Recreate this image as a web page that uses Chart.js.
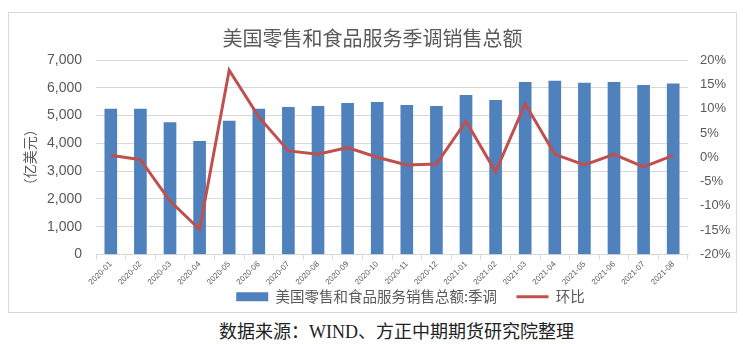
<!DOCTYPE html>
<html>
<head>
<meta charset="utf-8">
<script src="https://cdn.jsdelivr.net/npm/chart.js@4/dist/chart.umd.min.js"></script>
<style>
    html, body { margin: 0; padding: 0; background: #fff; }
    body { width: 743px; height: 344px; position: relative; overflow: hidden; }
    #box {
        position: absolute; left: 8px; top: 12px; width: 729px; height: 301px;
        box-sizing: border-box; border: 1px solid #d9d9d9;
    }
    #source {
        position: absolute; left: 0; top: 317px; width: 743px; text-align: center;
        font-family: "Liberation Serif", "Noto Sans CJK SC", serif; font-size: 18px; color: #222;
        padding-left: 50px; box-sizing: border-box;
    }
</style>
</head>
<body>
<div id="box"><canvas id="chart" width="727" height="299"></canvas></div>
<div id="source">数据来源：WIND、方正中期期货研究院整理</div>
<script>
// 月份
const months = ['2020-01', '2020-02', '2020-03', '2020-04', '2020-05', '2020-06', '2020-07',
    '2020-08', '2020-09', '2020-10', '2020-11', '2020-12', '2021-01', '2021-02', '2021-03',
    '2021-04', '2021-05', '2021-06', '2021-07', '2021-08'];

// 零售和食品服务销售总额（亿美元，季调）
const salesValues = [5230, 5230, 4750, 4070, 4800, 5230, 5300, 5330, 5440, 5480,
    5370, 5330, 5730, 5550, 6200, 6240, 6170, 6200, 6090, 6140];

// 环比（%）
const momValues = [0.4, -0.5, -9.0, -14.8, 17.9, 8.3, 1.3, 0.6, 2.0, 0.0,
    -1.6, -1.4, 7.4, -3.0, 11.0, 0.6, -1.6, 0.6, -2.0, 0.4];

// 坐标轴刻度
const leftTicks = { min: 0, max: 7000, step: 1000 };
const rightTicks = { min: -20, max: 20, step: 5 };

const FONT = '"Liberation Sans", "Noto Sans CJK SC", sans-serif';
const CJK = '"Noto Sans CJK SC", sans-serif';
const GRAY = '#595959';
const GRID = '#d9d9d9';

// 图例整体向右偏移
const legendShift = {
    id: 'legendShift',
    afterLayout: (chart) => {
        chart.legend.left += 38;
        chart.legend.right += 38;
    }
};

const ctx = document.getElementById('chart').getContext('2d');
new Chart(ctx, {
    data: {
        labels: months,
        datasets: [
            {
                type: 'line',
                label: '环比',
                data: momValues,
                yAxisID: 'y1',
                borderColor: '#c0504d',
                backgroundColor: '#c0504d',
                borderWidth: 3,
                pointRadius: 0,
                pointStyle: 'line',
                tension: 0,
                order: 0
            },
            {
                type: 'bar',
                label: '美国零售和食品服务销售总额:季调',
                data: salesValues,
                yAxisID: 'y',
                backgroundColor: '#4f81bd',
                borderWidth: 0,
                barThickness: 12,
                pointStyle: 'rect',
                order: 1
            }
        ]
    },
    plugins: [legendShift],
    options: {
        responsive: false,
        animation: false,
        layout: { padding: { left: 0, right: 0, top: 0, bottom: -2 } },
        plugins: {
            title: {
                display: true,
                text: '美国零售和食品服务季调销售总额',
                color: GRAY,
                font: { family: CJK, size: 20, weight: 'normal' },
                padding: { top: 13, bottom: 10 }
            },
            legend: {
                position: 'bottom',
                reverse: true,
                labels: {
                    usePointStyle: true,
                    pointStyleWidth: 32,
                    boxHeight: 9,
                    padding: 5,
                    color: GRAY,
                    font: { family: CJK, size: 14.5 },
                    // 两个图例项之间留出较宽的间隔
                    generateLabels: (chart) => {
                        const items = Chart.defaults.plugins.legend.labels.generateLabels(chart);
                        items.forEach(item => {
                            if (item.datasetIndex === 1) item.text = item.text + '\u3000';
                        });
                        return items;
                    }
                }
            },
            tooltip: { enabled: false }
        },
        scales: {
            x: {
                offset: true,
                grid: { display: true, drawOnChartArea: false, drawTicks: true, tickLength: 5, color: GRID, offset: true },
                border: { color: GRID },
                ticks: {
                    autoSkip: false, minRotation: 45, maxRotation: 45,
                    color: GRAY, font: { family: FONT, size: 8 }, padding: 0
                },
                afterFit: (scale) => { scale.height = 30; }
            },
            y: {
                position: 'left',
                min: leftTicks.min,
                max: leftTicks.max,
                grid: { color: GRID, drawTicks: false },
                border: { display: false },
                ticks: {
                    stepSize: leftTicks.step,
                    padding: 14,
                    color: GRAY,
                    font: { family: FONT, size: 14 },
                    callback: (v) => v.toLocaleString('en-US')
                },
                title: {
                    display: true,
                    text: '（亿美元）',
                    color: GRAY,
                    font: { family: CJK, size: 14 },
                    padding: { top: 12, bottom: 0 }
                },
                afterFit: (scale) => { scale.width = 87; }
            },
            y1: {
                position: 'right',
                min: rightTicks.min,
                max: rightTicks.max,
                grid: { display: false, drawTicks: false },
                border: { display: false },
                ticks: {
                    stepSize: rightTicks.step,
                    padding: 12,
                    color: GRAY,
                    font: { family: FONT, size: 13 },
                    callback: (v) => v + '%'
                },
                afterFit: (scale) => { scale.width = 48; }
            }
        }
    }
});
</script>
</body>
</html>
